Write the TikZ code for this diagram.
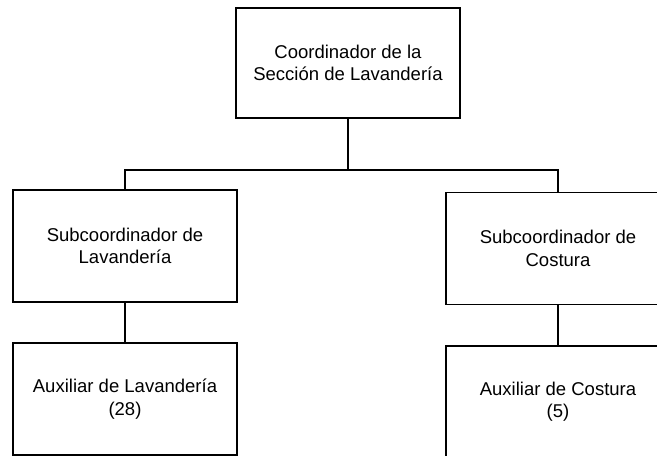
\documentclass[tikz,border=0pt]{standalone}
\usepackage{fontspec}
\setmainfont{Liberation Sans}
\tikzset{
  unitbox/.style={rectangle, draw, line width=1.2pt, align=center,
    minimum width=6.72cm, minimum height=3.36cm, inner sep=2pt,
    font=\fontsize{15.8pt}{19pt}\selectfont},
  link/.style={line width=1.2pt}
}
\begin{document}
\begin{tikzpicture}[x=0.03cm, y=-0.03cm]
        \useasboundingbox (0,0) rectangle (657,455);
        \clip (0,0) rectangle (657,455);
        \node[unitbox, minimum height=3.3cm] (coord) at (348,63) {Coordinador de la\\Sección de Lavandería};
        \node[unitbox] (sublav) at (125,246) {Subcoordinador de\\Lavandería};
        \node[unitbox] (subcos) at (558,248.5) {Subcoordinador de\\Costura};
        \node[unitbox] (auxlav) at (125,399) {Auxiliar de Lavandería\\(28)};
        \node[unitbox] (auxcos) at (558,402) {Auxiliar de Costura\\(5)};
        \coordinate (bus) at (348,170);
        \draw[link] (coord.south)--(bus)-|(sublav.north);
        \draw[link] (bus)-|(subcos.north);
        \draw[link] (sublav.south)--(auxlav.north);
        \draw[link] (subcos.south)--(auxcos.north);
    \end{tikzpicture}
\end{document}
